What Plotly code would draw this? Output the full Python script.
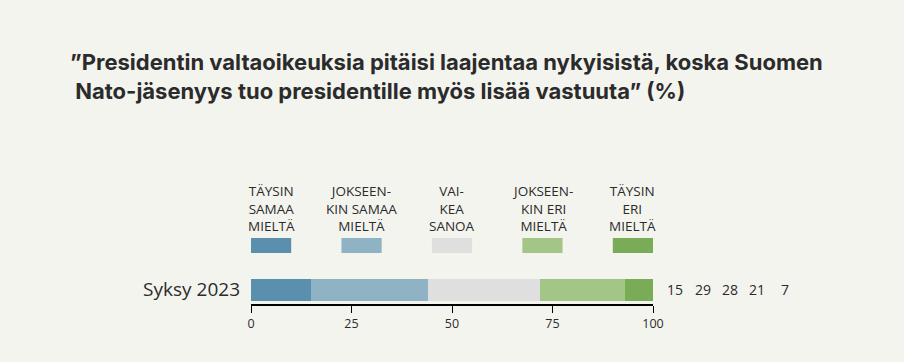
import plotly.graph_objects as go

categories = ["Syksy 2023"]
series_names = ["TÄYSIN<br>SAMAA<br>MIELTÄ", "JOKSEEN-<br>KIN SAMAA<br>MIELTÄ", "VAI-<br>KEA<br>SANOA",
                "JOKSEEN-<br>KIN ERI<br>MIELTÄ", "TÄYSIN<br>ERI<br>MIELTÄ"]
values = [15, 29, 28, 21, 7]
colors = ["#5a8fae", "#8fb2c4", "#dfdfdf", "#a3c586", "#7aab56"]
tick_vals = [0, 25, 50, 75, 100]
legend_x = [5, 27.5, 50, 72.5, 95]
value_label_x = [105.5, 112.4, 119.2, 125.9, 132.8]

BG = "#f4f4ef"
TXT = "#2b2b2b"
FONT = "Open Sans"

fig = go.Figure()
for name, v, c in zip(series_names, values, colors):
    fig.add_trace(go.Bar(
        y=categories, x=[v], orientation="h", marker=dict(color=c, line=dict(width=0)),
        width=0.55, name=name, showlegend=False, hoverinfo="skip"))

shapes = []
annotations = []
for name, lx, c in zip(series_names, legend_x, colors):
    shapes.append(dict(type="rect", xref="x", yref="paper", x0=lx - 5, x1=lx + 5,
                       y0=(304 - 253) / 40, y1=(304 - 238) / 40,
                       fillcolor=c, line=dict(width=0)))
    annotations.append(dict(xref="x", yref="paper", x=lx, y=(304 - 180) / 40,
                            text=name, showarrow=False, xanchor="center", yanchor="top",
                            font=dict(family=FONT, size=13.5, color=TXT), align="center"))

for v, vx in zip(values, value_label_x):
    annotations.append(dict(xref="paper", yref="y", x=vx / 100, y=0, text=str(v), showarrow=False,
                            xanchor="center", yanchor="middle",
                            font=dict(family=FONT, size=14, color=TXT)))

annotations.append(dict(xref="paper", yref="paper", x=(68 - 251) / 402, y=(304 - 47) / 40,
                        xanchor="left", yanchor="top", align="left", showarrow=False,
                        text="”Presidentin valtaoikeuksia pitäisi laajentaa nykyisistä, koska Suomen<br>\u00a0Nato-jäsenyys tuo presidentille myös lisää vastuuta” (%)",
                        font=dict(family="Inter", size=22, color=TXT, weight=700)))

fig.update_layout(
    barmode="stack",
    width=904, height=362,
    margin=dict(l=251, r=251, t=264, b=58),
    paper_bgcolor=BG, plot_bgcolor=BG,
    xaxis=dict(range=[0, 100], tickvals=tick_vals, showgrid=False, zeroline=False,
               showline=True, linecolor="#000000", linewidth=2, ticks="outside",
               ticklen=7, tickcolor="#000000", tickwidth=1,
               tickfont=dict(family=FONT, size=12.5, color=TXT), fixedrange=True),
    yaxis=dict(range=[-0.36, 0.64], showgrid=False, zeroline=False, showline=False,
               ticks="", ticklabelstandoff=10,
               tickfont=dict(family=FONT, size=19, color=TXT), fixedrange=True),
    shapes=shapes, annotations=annotations,
    bargap=0,
)

fig.write_html("out.html", config={"displayModeBar": False},
               post_script="document.body.style.margin='0';document.body.style.background='" + BG + "';")
